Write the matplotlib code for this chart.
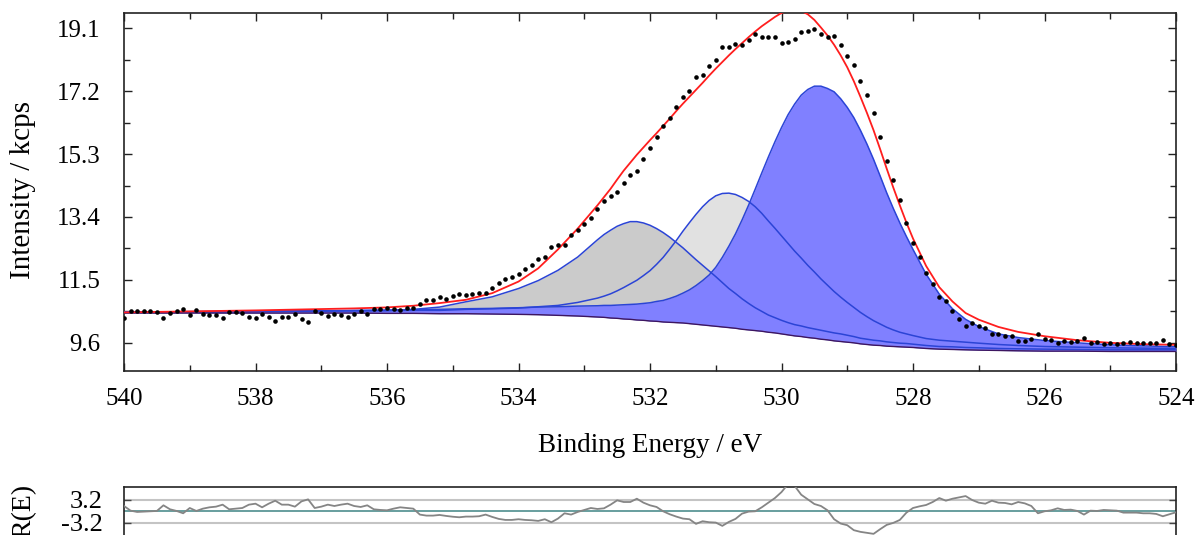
import numpy as np
import matplotlib
matplotlib.use("Agg")
import matplotlib.pyplot as plt
from matplotlib.ticker import MultipleLocator, FixedLocator, FormatStrFormatter

plt.rcParams['font.family'] = ['Liberation Serif', 'DejaVu Serif']

# ---------------- data ----------------
# measured spectrum: 0.1 eV steps from 540 to 524 eV
data_energy = np.linspace(540.0, 524.0, 161)
data_intensity = [
    10.35, 10.57, 10.57, 10.57, 10.57, 10.54, 10.36, 10.50, 10.57, 10.62,
    10.45, 10.58, 10.48, 10.44, 10.43, 10.36, 10.52, 10.53, 10.50, 10.37,
    10.35, 10.46, 10.37, 10.27, 10.39, 10.39, 10.48, 10.33, 10.23, 10.55,
    10.50, 10.42, 10.47, 10.43, 10.37, 10.47, 10.55, 10.46, 10.62, 10.62,
    10.65, 10.62, 10.60, 10.64, 10.64, 10.77, 10.90, 10.88, 10.97, 10.93,
    11.00, 11.08, 11.05, 11.08, 11.12, 11.10, 11.27, 11.42, 11.53, 11.60,
    11.68, 11.84, 11.95, 12.14, 12.19, 12.49, 12.56, 12.56, 12.85, 13.00,
    13.20, 13.36, 13.65, 13.87, 14.02, 14.15, 14.44, 14.68, 14.80, 15.15,
    15.48, 15.81, 16.14, 16.39, 16.71, 17.01, 17.21, 17.64, 17.68, 17.95,
    18.14, 18.52, 18.52, 18.62, 18.58, 18.74, 18.94, 18.82, 18.82, 18.82,
    18.65, 18.69, 18.77, 18.99, 19.03, 19.09, 18.91, 18.84, 18.87, 18.60,
    18.25, 18.00, 17.52, 17.07, 16.55, 15.81, 15.09, 14.51, 13.91, 13.23,
    12.62, 12.19, 11.72, 11.37, 10.97, 10.87, 10.55, 10.33, 10.12, 10.19,
    10.12, 10.04, 9.86, 9.88, 9.81, 9.81, 9.66, 9.66, 9.71, 9.88,
    9.73, 9.69, 9.61, 9.67, 9.63, 9.67, 9.76, 9.61, 9.64, 9.56,
    9.61, 9.56, 9.61, 9.64, 9.61, 9.59, 9.59, 9.59, 9.69, 9.56,
    9.52,
]
residual = [
    1.46, 0.18, -0.18, -0.09, 0.00, 0.09, 1.65, 0.55, 0.09, -0.55,
    0.91, 0.09, 0.73, 1.10, 1.28, 1.83, 0.55, 0.73, 0.91, 1.83,
    2.10, 1.10, 2.10, 2.92, 1.83, 1.83, 1.28, 2.74, 3.29, 0.91,
    1.28, 1.83, 1.46, 1.83, 2.10, 1.46, 1.19, 1.65, 0.55, 0.37,
    0.27, 0.73, 1.10, 0.91, 0.73, -0.91, -1.19, -1.19, -1.01, -1.28,
    -1.50, -1.65, -1.46, -1.46, -1.37, -0.91, -1.55, -2.10, -2.38, -2.38,
    -2.19, -2.38, -2.47, -2.65, -2.19, -3.02, -2.01, -0.55, -0.91, -0.18,
    0.37, 0.91, 0.64, 0.82, 1.83, 3.02, 2.56, 2.56, 3.47, 2.38,
    1.65, 1.19, 0.00, -0.82, -1.46, -2.01, -2.19, -3.47, -2.74, -3.02,
    -3.11, -4.02, -2.92, -2.10, -0.64, -0.09, 0.00, 1.10, 2.38, 3.66,
    5.30, 7.50, 7.00, 4.57, 3.29, 2.01, 1.46, 0.27, -2.19, -3.38,
    -3.84, -5.21, -5.67, -5.94, -6.22, -4.94, -3.75, -3.20, -2.38, -0.37,
    0.91, 1.37, 1.74, 2.56, 3.66, 2.92, 3.47, 3.84, 4.20, 3.11,
    2.38, 2.10, 2.92, 2.38, 2.29, 1.92, 2.56, 2.19, 1.46, -0.55,
    0.00, 0.27, 0.82, 0.37, 0.46, 0.09, -0.91, 0.18, 0.09, 0.37,
    0.27, 0.18, -0.37, -0.37, -0.37, -0.55, -0.55, -0.73, -1.37, -0.82,
    -0.27,
]

# fitted curves (sampled along the energy axis)
fit_energy = [
    540.0, 539.0, 538.0, 537.0, 536.5, 536.0, 535.6, 535.2, 534.8, 534.4,
    534.0, 533.7, 533.4, 533.1,
    532.8, 532.7, 532.6, 532.5, 532.4, 532.3, 532.2, 532.1, 532.0, 531.9,
    531.8, 531.7, 531.6, 531.5, 531.4, 531.3, 531.2, 531.1, 531.0, 530.9,
    530.8, 530.7, 530.6, 530.5, 530.4, 530.3, 530.2, 530.1, 530.0, 529.9,
    529.8, 529.7, 529.6, 529.5, 529.4, 529.3, 529.2, 529.1, 529.0, 528.9,
    528.8, 528.7, 528.6, 528.5, 528.4, 528.3, 528.2, 528.1, 528.0,
    527.8, 527.6, 527.4, 527.2, 527.0, 526.7, 526.4, 526.0, 525.5, 525.0,
    524.5, 524.0,
]
background = [
    10.50, 10.50, 10.50, 10.50, 10.50, 10.49, 10.49, 10.48, 10.48, 10.47,
    10.46, 10.45, 10.43, 10.41,
    10.38, 10.37, 10.35, 10.34, 10.32, 10.31, 10.29, 10.28, 10.26, 10.25,
    10.23, 10.22, 10.21, 10.20, 10.18, 10.16, 10.14, 10.12, 10.10, 10.08,
    10.06, 10.04, 10.01, 9.99, 9.97, 9.95, 9.92, 9.90, 9.87, 9.84,
    9.81, 9.79, 9.76, 9.74, 9.71, 9.69, 9.66, 9.64, 9.62, 9.60,
    9.57, 9.55, 9.53, 9.52, 9.50, 9.49, 9.48, 9.47, 9.46,
    9.43, 9.41, 9.40, 9.39, 9.38, 9.37, 9.36, 9.35, 9.35, 9.34,
    9.34, 9.34,
]
peak_529 = [
    10.53, 10.54, 10.55, 10.57, 10.58, 10.59, 10.60, 10.61, 10.63, 10.64,
    10.66, 10.68, 10.69, 10.71,
    10.72, 10.73, 10.73, 10.74, 10.75, 10.76, 10.77, 10.79, 10.81, 10.85,
    10.88, 10.94, 11.01, 11.10, 11.20, 11.33, 11.48, 11.65, 11.88, 12.18,
    12.52, 12.89, 13.31, 13.76, 14.24, 14.73, 15.21, 15.67, 16.10, 16.49,
    16.81, 17.08, 17.25, 17.35, 17.35, 17.28, 17.18, 16.97, 16.71, 16.40,
    16.02, 15.60, 15.14, 14.64, 14.13, 13.66, 13.22, 12.81, 12.42,
    11.67, 11.07, 10.63, 10.31, 10.09, 9.87, 9.76, 9.67, 9.60, 9.54,
    9.51, 9.48,
]
peak_531 = [
    10.53, 10.54, 10.55, 10.56, 10.57, 10.57, 10.58, 10.58, 10.61, 10.63,
    10.65, 10.69, 10.73, 10.82,
    10.95, 11.01, 11.08, 11.17, 11.27, 11.38, 11.49, 11.63, 11.78, 11.97,
    12.18, 12.43, 12.69, 12.97, 13.23, 13.48, 13.71, 13.90, 14.04, 14.11,
    14.12, 14.08, 13.99, 13.87, 13.71, 13.51, 13.28, 13.06, 12.83, 12.60,
    12.37, 12.16, 11.94, 11.74, 11.53, 11.34, 11.15, 10.98, 10.82, 10.67,
    10.52, 10.39, 10.27, 10.17, 10.07, 9.99, 9.92, 9.87, 9.82,
    9.73, 9.68, 9.65, 9.62, 9.59, 9.55, 9.52, 9.49, 9.47, 9.45,
    9.44, 9.43,
]
peak_532 = [
    10.53, 10.54, 10.55, 10.56, 10.57, 10.58, 10.61, 10.68, 10.84, 10.99,
    11.24, 11.48, 11.79, 12.19,
    12.71, 12.87, 13.00, 13.12, 13.20, 13.26, 13.26, 13.22, 13.15, 13.05,
    12.93, 12.79, 12.63, 12.47, 12.29, 12.11, 11.94, 11.77, 11.60, 11.42,
    11.24, 11.09, 10.93, 10.79, 10.66, 10.55, 10.44, 10.36, 10.28, 10.21,
    10.15, 10.11, 10.06, 10.02, 9.98, 9.94, 9.90, 9.87, 9.83, 9.79,
    9.74, 9.71, 9.68, 9.66, 9.63, 9.61, 9.59, 9.58, 9.56,
    9.52, 9.49, 9.48, 9.46, 9.45, 9.43, 9.42, 9.41, 9.40, 9.39,
    9.39, 9.39,
]
envelope = [
    10.52, 10.55, 10.58, 10.62, 10.64, 10.67, 10.72, 10.80, 10.90, 11.10,
    11.45, 11.85, 12.42, 13.05,
    13.75, 14.00, 14.25, 14.53, 14.80, 15.04, 15.28, 15.50, 15.72, 15.93,
    16.15, 16.37, 16.60, 16.82, 17.03, 17.24, 17.45, 17.67, 17.88, 18.08,
    18.28, 18.47, 18.65, 18.83, 19.00, 19.16, 19.30, 19.44, 19.56, 19.63,
    19.66, 19.62, 19.52, 19.35, 19.12, 18.88, 18.60, 18.28, 17.92, 17.50,
    17.03, 16.54, 16.02, 15.45, 14.86, 14.29, 13.75, 13.23, 12.75,
    11.92, 11.28, 10.85, 10.50, 10.30, 10.08, 9.93, 9.80, 9.68, 9.60,
    9.56, 9.54,
]

y_major_ticks = [9.6, 11.5, 13.4, 15.3, 17.2, 19.1]
y_minor_ticks = [10.55, 12.45, 14.35, 16.25, 18.15]
res_ticks = [-3.2, 3.2]

# ---------------- figure ----------------
W, H = 1201, 535
fig = plt.figure(figsize=(W / 100, H / 100), dpi=100)


def px_axes(left, top, right, bottom):
    return [left / W, 1 - bottom / H, (right - left) / W, (bottom - top) / H]


ax = fig.add_axes(px_axes(124, 13.3, 1176, 371))

ax.fill_between(fit_energy, background, peak_531, color='#e1e1e1', lw=0, zorder=1)
ax.fill_between(fit_energy, background, peak_532, color='#cbcbcb', lw=0, zorder=2)
ax.fill_between(fit_energy, background, peak_529, color='#8080ff', lw=0, zorder=3)

comp_color = '#2b44d6'
for comp in (peak_532, peak_531, peak_529):
    ax.plot(fit_energy, comp, color=comp_color, lw=1.1, zorder=4)
ax.plot(fit_energy, background, color='#3d1660', lw=1.0, zorder=4)
ax.plot(fit_energy, envelope, color='#ff1e1e', lw=1.3, zorder=5)
ax.plot(data_energy, data_intensity, 'o', ms=3.3, color='black', mec='none', zorder=6)

ax.set_xlim(540, 524)
ax.set_ylim(8.75, 19.55)
ax.xaxis.set_major_locator(MultipleLocator(2))
ax.xaxis.set_minor_locator(MultipleLocator(1))
ax.xaxis.set_major_formatter(FormatStrFormatter('%d'))
ax.yaxis.set_major_locator(FixedLocator(y_major_ticks))
ax.yaxis.set_minor_locator(FixedLocator(y_minor_ticks))
ax.yaxis.set_major_formatter(FormatStrFormatter('%.1f'))
ax.tick_params(which='both', direction='in', top=True, right=True, width=1.0,
               color='#222222', labelsize=18)
ax.tick_params(which='major', length=6)
ax.tick_params(which='minor', length=4)
ax.tick_params(axis='x', pad=12)
ax.tick_params(axis='y', pad=17)
for s in ax.spines.values():
    s.set_linewidth(1.2)
    s.set_color('#222222')

fig.text(650 / W, 1 - 446 / H, 'Binding Energy / eV', ha='center', va='center', fontsize=19.5)
fig.text(23 / W, 1 - 190 / H, 'Intensity / kcps', ha='center', va='center',
         rotation=90, fontsize=21)

# residual panel (extends slightly past the bottom edge, as in the reference)
rax = fig.add_axes(px_axes(124, 487, 1176, 537))
rax.set_xlim(540, 524)
rax.set_ylim(-7.09, 6.7)
rax.axhline(3.2, color='#c4c4c4', lw=1.5, zorder=1)
rax.axhline(-3.2, color='#c4c4c4', lw=1.5, zorder=1)
rax.axhline(0, color='#4e8e8e', lw=1.2, zorder=2)
rax.plot(data_energy, residual, color='#858585', lw=1.3, zorder=3)
rax.set_xticks([])
rax.set_yticks(res_ticks)
rax.set_yticklabels(['-3.2', '3.2'])
rax.tick_params(axis='y', direction='in', right=True, length=5, width=1.0,
                labelsize=19, pad=15, color='#444444')
for s in rax.spines.values():
    s.set_linewidth(1.2)
    s.set_color('#222222')
fig.text(24 / W, 1 - 511 / H, 'R(E)', ha='center', va='center', rotation=90, fontsize=20)

fig.savefig('out.png', dpi=100)
